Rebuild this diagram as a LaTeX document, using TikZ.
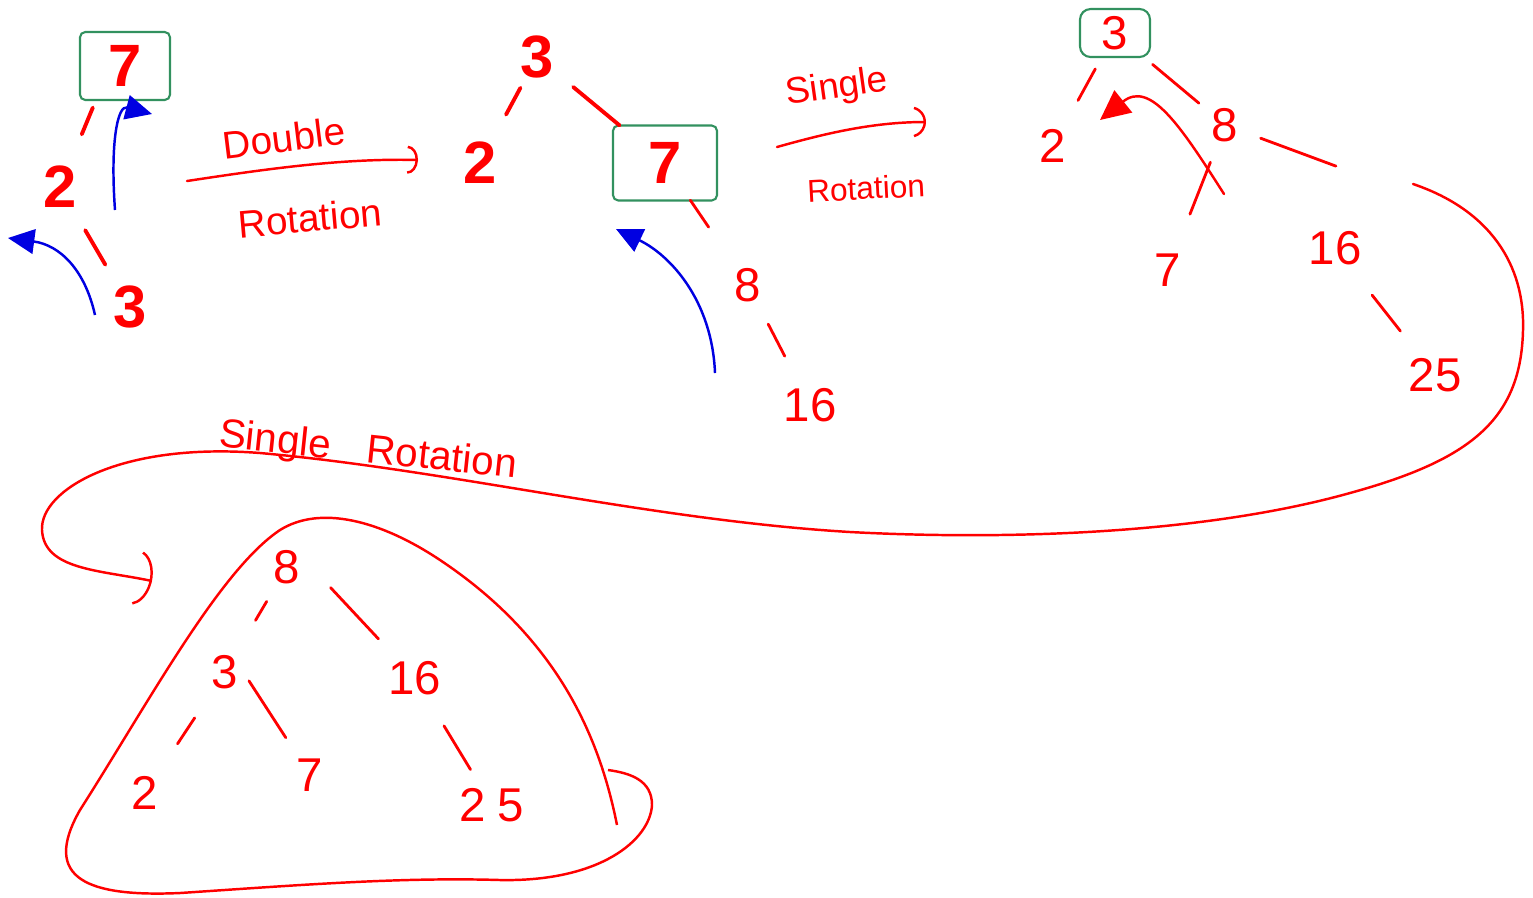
\documentclass[tikz,border=0pt]{standalone}
\usepackage{fontspec}
\setmainfont{Liberation Sans}
\usetikzlibrary{arrows.meta}

\definecolor{inkred}{RGB}{255,0,0}
\definecolor{inkblue}{RGB}{0,0,225}
\definecolor{inkgreen}{RGB}{50,145,95}

\begin{document}
\begin{tikzpicture}[
    x=0.02cm, y=-0.02cm,
    % Stili per i numeri
    bignum/.style={text=inkred, inner sep=0pt, font=\fontsize{34}{34}\selectfont\bfseries},
    num/.style={text=inkred, inner sep=0pt, font=\fontsize{27}{27}\selectfont},
    pivot/.style={draw=inkgreen, line width=1.2pt, rounded corners=3pt},
    % Stili per il testo
    word/.style={text=inkred, inner sep=0pt, font=\fontsize{22}{22}\selectfont},
    % Stili per le connessioni
    edge/.style={draw=inkred, line width=1.6pt, line cap=round},
    bigedge/.style={edge, line width=2.2pt},
    turn/.style={draw=inkblue, line width=1.4pt, -{Triangle[length=15pt, width=14pt]}},
    rot/.style={draw=inkred, line width=1.4pt, line cap=round, -{Arc Barb[arc=180, length=6pt, width=16pt]}},
    loop/.style={draw=inkred, line width=1.4pt}
]
\useasboundingbox (0,0) rectangle (1533,897);

% === ALBERO 1 ===
\node[bignum, pivot, minimum width=1.8cm, minimum height=1.36cm] (a7) at (125,66) {7};
\node[bignum] (a2) at (60,187) {2};
\node[bignum] (a3) at (130,307) {3};
\draw[bigedge, shorten <=0.9cm, shorten >=1.14cm] ([xshift=-0.3cm]a7.center) -- (a2.center);
\draw[bigedge, shorten <=1.0cm, shorten >=0.98cm] (a2.center) -- (a3.center);
\coordinate (a2up) at (115,210);
\coordinate (a7in) at (152,114);
\coordinate (a3up) at (95,315);
\coordinate (a2in) at (8,238);
\draw[turn] (a2up) .. controls (110,140) and (118,105) .. (a7in);
\draw[turn] (a3up) .. controls (85,270) and (60,245) .. (a2in);

% === DOPPIA ROTAZIONE ===
\coordinate (dblfrom) at (187,181);
\coordinate (dblto) at (418,160);
\draw[rot] (dblfrom) .. controls (260,170) and (340,158) .. (dblto);
\node[word, rotate=7] (dbl1) at (284,138) {Double};
\node[word, rotate=5] (dbl2) at (310,218) {Rotation};

% === ALBERO 2 ===
\node[bignum] (b3) at (537,57) {3};
\node[bignum] (b2) at (480,163) {2};
\node[bignum, pivot, minimum width=2.08cm, minimum height=1.5cm] (b7) at (665,163) {7};
\node[num] (b8) at (748,285) {8};
\node[num] (b16) at (810,405) {16};
\draw[bigedge, shorten <=0.7cm, shorten >=1.1cm] (b3.center) -- (b2.center);
\draw[bigedge, shorten <=0.94cm, shorten >=1.18cm] (b3.center) -- (b7.center);
\draw[edge, shorten <=0.9cm, shorten >=1.4cm] (b7.center) -- (b8.center);
\draw[edge, shorten <=0.88cm, shorten >=1.1cm] (b8.center) -- (b16.center);
\coordinate (b16up) at (715,373);
\coordinate (b7in) at (616,229);
\draw[turn] (b16up) .. controls (712,300) and (670,255) .. (b7in);

% === ROTAZIONE SEMPLICE ===
\coordinate (sglfrom) at (777,147);
\coordinate (sglto) at (926,122);
\draw[rot, -{Arc Barb[arc=150, length=9pt, width=18pt]}] (sglfrom) .. controls (820,135) and (870,122) .. (sglto);
\node[word, font=\fontsize{21}{21}\selectfont, rotate=8] (sgl1) at (837,88) {Single};
\node[word, font=\fontsize{18}{18}\selectfont, rotate=3] (sgl2) at (866,188) {Rotation};

% === ALBERO 3 ===
\node[num, pivot, minimum width=1.4cm, minimum height=0.96cm, rounded corners=6pt] (c3) at (1115,33) {3};
\node[num] (c2) at (1053,146) {2};
\node[num] (c8) at (1225,125) {8};
\node[num] (c7) at (1168,270) {7};
\node[num] (c16) at (1335,248) {16};
\node[num] (c25) at (1435,375) {25};
\draw[edge, shorten <=0.82cm, shorten >=1.04cm] (c3.center) -- (c2.center);
\draw[edge, shorten <=0.98cm, shorten >=0.68cm] (c3.center) -- (c8.center);
\draw[edge, shorten <=0.8cm, shorten >=1.2cm] (c8.center) -- (c7.center);
\draw[edge, shorten <=0.76cm, shorten >=1.26cm] (c8.center) -- ([xshift=1.2cm, yshift=1.2cm]c16.center);
\draw[edge, shorten <=1.2cm, shorten >=1.12cm] (c16.center) -- (c25.center);
\coordinate (c7up) at (1224,194);
\coordinate (c2in) at (1100,120);
\draw[edge, line width=1.4pt, -{Triangle[length=17pt, width=16pt]}] (c7up) .. controls (1180,125) and (1150,80) .. (c2in);

% === ROTAZIONE SEMPLICE (freccia lunga) ===
\coordinate (longfrom) at (1413,184);
\coordinate (longto) at (152,581);
\draw[rot, -{Arc Barb[arc=150, length=11pt, width=32pt]}] (longfrom)
    .. controls (1490,210) and (1525,265) .. (1523,330)
    .. controls (1521,420) and (1470,460) .. (1350,493)
    .. controls (1200,535) and (1000,540) .. (850,532)
    .. controls (650,520) and (450,470) .. (260,453)
    .. controls (120,442) and (40,490) .. (42,530)
    .. controls (44,570) and (100,570) .. (longto);
\node[word, font=\fontsize{23}{23}\selectfont, rotate=-6] (sgl3) at (368,452) {Single\hspace{0.9em}Rotation};

% === ALBERO 4 ===
\node[num] (d8) at (287,567) {8};
\node[num] (d3) at (225,672) {3};
\node[num] (d16) at (415,678) {16};
\node[num] (d2) at (145,793) {2};
\node[num] (d7) at (310,775) {7};
\node[num] (d25) at (492,805) {2\hspace{0.25em}5};
\draw[edge, shorten <=0.8cm, shorten >=1.2cm] (d8.center) -- (d3.center);
\draw[edge, shorten <=0.84cm, shorten >=1.07cm] ([xshift=0.3cm, yshift=0.2cm]d8.center) -- (d16.center);
\draw[edge, shorten <=1.1cm, shorten >=1.18cm] (d3.center) -- (d2.center);
\draw[edge, shorten <=0.33cm, shorten >=0.89cm] ([xshift=0.3cm, yshift=0.1cm]d3.center) -- (d7.center);
\draw[edge, shorten <=1.12cm, shorten >=0.83cm] (d16.center) -- (d25.center);

% contorno dell'albero finale
\draw[loop] (617,825) .. controls (600,740) and (560,640) .. (440,560)
    .. controls (380,520) and (320,505) .. (280,530)
    .. controls (220,570) and (150,700) .. (80,810)
    .. controls (40,880) and (90,897) .. (180,893)
    .. controls (300,885) and (400,877) .. (500,880)
    .. controls (600,882) and (650,840) .. (652,805)
    .. controls (652,780) and (630,773) .. (608,770);

\end{tikzpicture}
\end{document}
